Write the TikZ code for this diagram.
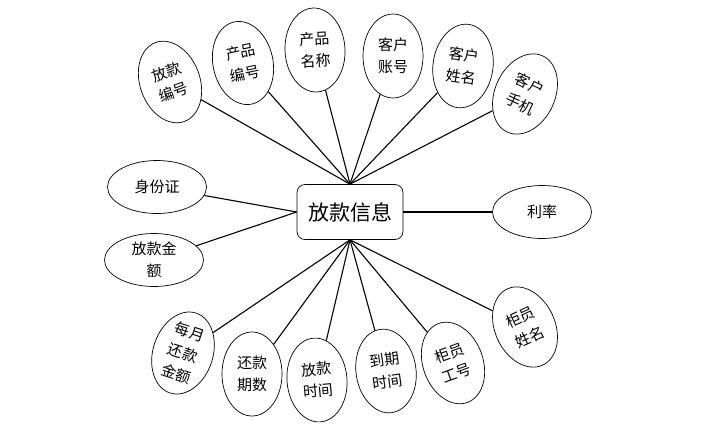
\documentclass[tikz,border=0pt]{standalone}
\usepackage{fontspec}
\newfontfamily\cjk{Noto Sans CJK SC}
\usepackage{tikz}
\usetikzlibrary{shapes.geometric}

\tikzset{
  entity/.style={draw, line width=0.7pt, rounded corners=8pt, minimum width=106pt,
    minimum height=55pt, font=\cjk\fontsize{21}{24}\selectfont},
  attr/.style={draw, ellipse, line width=0.7pt, inner sep=0pt, align=center,
    minimum width=60pt, minimum height=84pt, font=\cjk\fontsize{15}{22}\selectfont},
  attrw/.style={attr, minimum width=99pt, minimum height=53pt},
  link/.style={line width=1.1pt}
}

\begin{document}
\begin{tikzpicture}[x=1pt, y=-1pt]
    \useasboundingbox (0,0) rectangle (714,431);

    % 1. Thực thể ở giữa
    \node[entity] (loan) at (350,212) {放款信息};

    % 2. Các thuộc tính phía trên
    \node[attr, rotate=20]  (loanno)   at (170,82)  {放款\\编号};
    \node[attr, rotate=12]  (prodno)   at (243,63)  {产品\\编号};
    \node[attr, rotate=3]   (prodname) at (315,50)  {产品\\名称};
    \node[attr]             (custacc)  at (393,56)  {客户\\账号};
    \node[attr, rotate=-8]  (custname) at (463,66)  {客户\\姓名};
    \node[attr, rotate=-25] (custtel)  at (525,94)  {客户\\手机};

    % 3. Các thuộc tính hai bên
    \node[attrw] (idcard) at (157,187) {身份证};
    \node[attrw] (amount) at (154,260) {放款金\\额};
    \node[attrw] (rate)   at (542,212) {利率};

    % 4. Các thuộc tính phía dưới
    \node[attr, rotate=-18] (monthly) at (183,353) {每月\\还款\\金额};
    \node[attr]             (terms)   at (252,374) {还款\\期数};
    \node[attr, rotate=5]   (lendday) at (317,380) {放款\\时间};
    \node[attr, rotate=8]   (dueday)  at (386,371) {到期\\时间};
    \node[attr, rotate=20]  (tellno)  at (453,363) {柜员\\工号};
    \node[attr, rotate=25]  (tellnm)  at (525,327) {柜员\\姓名};

    % 5. Nối các thuộc tính với thực thể
    \foreach \a in {loanno, prodno, prodname, custacc, custname, custtel}
        \draw[link] (loan.north) -- (\a);
    \foreach \a in {monthly, terms, lendday, dueday, tellno, tellnm}
        \draw[link] (loan.south) -- (\a);
    \draw[link] (loan.west) -- (idcard);
    \draw[link] (loan.west) -- (amount);
    \draw[link] (loan.east) -- (rate);
\end{tikzpicture}
\end{document}
